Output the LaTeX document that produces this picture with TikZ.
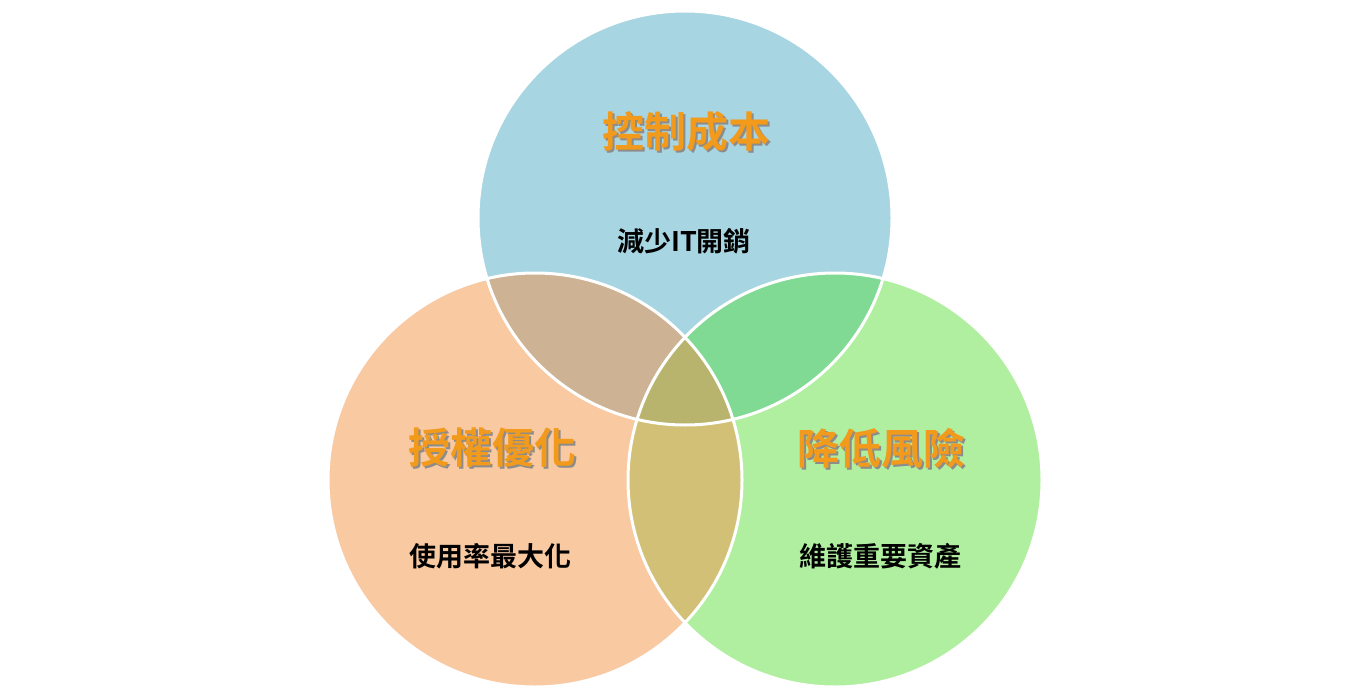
\documentclass[tikz,border=0pt]{standalone}
\usepackage{fontspec}
\newfontfamily\cjk{Noto Sans CJK TC Bold}
\definecolor{cB}{HTML}{A7D5E2}
\definecolor{cO}{HTML}{F9C9A2}
\definecolor{cG}{HTML}{B0EFA0}
\definecolor{cOB}{HTML}{CDB294}
\definecolor{cBG}{HTML}{80DA94}
\definecolor{cOG}{HTML}{D2C077}
\definecolor{cT}{HTML}{B8B46E}
\definecolor{ttl}{HTML}{F29A1C}
\tikzset{
  ttlstyle/.style={font=\cjk\fontsize{42}{46}\selectfont, text=ttl, inner sep=0},
  shd/.style={font=\cjk\fontsize{42}{46}\selectfont, text=black!45, inner sep=0},
  substyle/.style={font=\cjk\fontsize{27}{30}\selectfont, text=black, inner sep=0},
}
\begin{document}
\begin{tikzpicture}[x=1pt,y=-1pt]
\useasboundingbox (0,0) rectangle (1370,698);
\def\R{207}
\coordinate (T) at (685,218);
\coordinate (L) at (535,480);
\coordinate (G) at (835,480);
\fill[cB] (T) circle (\R);
\fill[cO] (L) circle (\R);
\fill[cG] (G) circle (\R);
\begin{scope}\clip (T) circle (\R); \fill[cOB] (L) circle (\R); \fill[cBG] (G) circle (\R);\end{scope}
\begin{scope}\clip (L) circle (\R); \fill[cOG] (G) circle (\R);
  \clip (G) circle (\R); \fill[cT] (T) circle (\R);\end{scope}
\draw[white, line width=3] (T) circle (\R) (L) circle (\R) (G) circle (\R);
\node[shd] at (688,134) {控制成本};
\node[ttlstyle] (t1) at (686,132) {控制成本};
\node[substyle] (s1) at (684,241) {減少IT開銷};
\node[shd] at (494,450) {授權優化};
\node[ttlstyle] (t2) at (492,448) {授權優化};
\node[substyle] (s2) at (490,556) {使用率最大化};
\node[shd] at (883,450) {降低風險};
\node[ttlstyle] (t3) at (881,448) {降低風險};
\node[substyle] (s3) at (880,556) {維護重要資產};
\end{tikzpicture}
\end{document}
